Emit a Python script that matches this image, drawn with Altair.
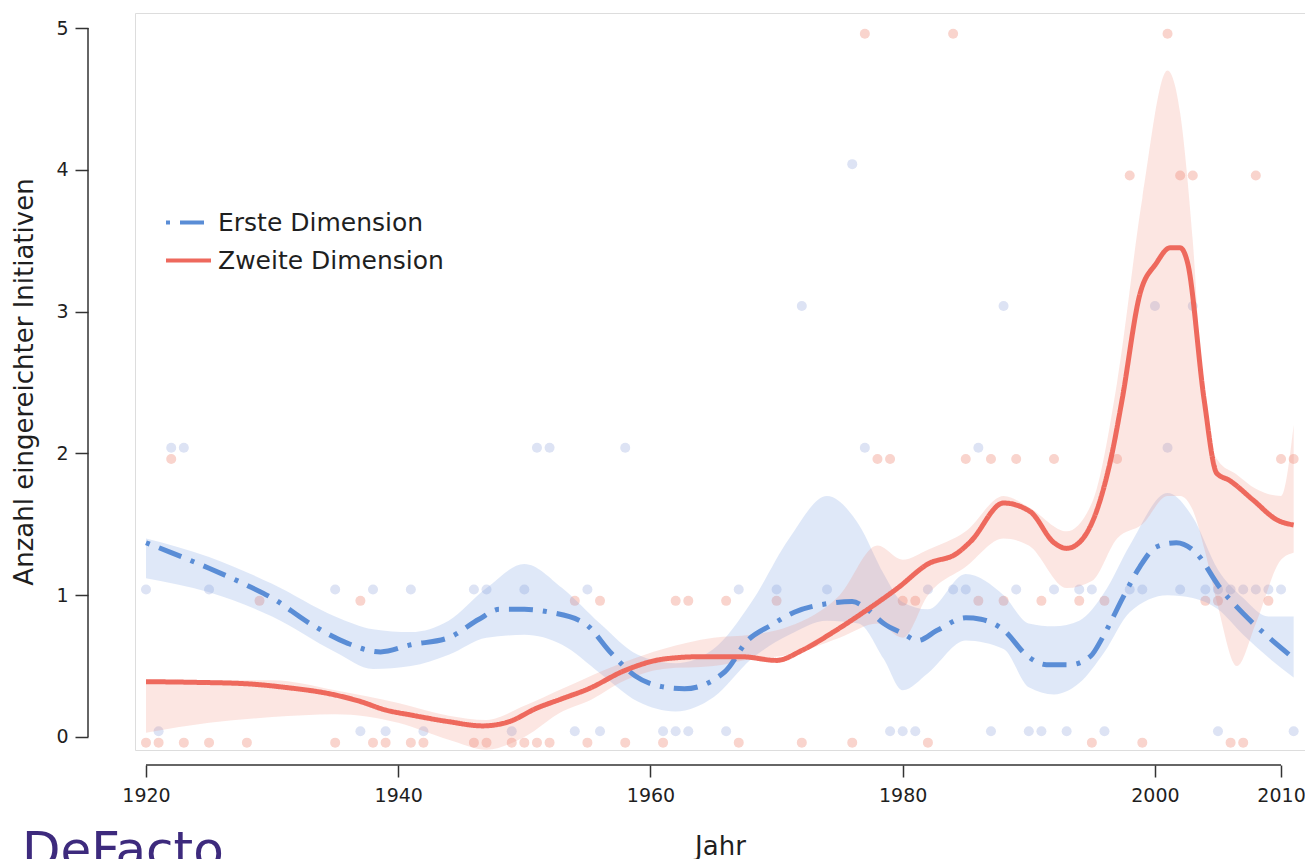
import altair as alt
import pandas as pd

# ---------------- data ----------------
DIM1 = "Erste Dimension"
DIM2 = "Zweite Dimension"

# smoothed curve, first dimension
blue_years = [1920, 1922, 1925, 1928, 1930, 1933, 1936, 1938.6, 1941, 1944, 1946.4, 1948,
              1950, 1952, 1954.8, 1956.9, 1958.8, 1960.9, 1962.7, 1965.9, 1967.7, 1969.6,
              1971.4, 1974, 1976, 1977.2, 1978.5, 1980, 1981.2, 1982.7, 1985, 1986.2, 1988,
              1989.9, 1991.4, 1993.3, 1994.9, 1995.9, 1997.5, 1998.8, 2000.1, 2001.7, 2003.3,
              2005.1, 2007, 2008.8, 2011]
blue_vals = [1.37, 1.30, 1.19, 1.07, 0.98, 0.80, 0.66, 0.60, 0.65, 0.70, 0.83, 0.90,
             0.90, 0.88, 0.80, 0.59, 0.43, 0.355, 0.34, 0.46, 0.68, 0.79,
             0.88, 0.94, 0.955, 0.90, 0.80, 0.73, 0.68, 0.75, 0.84, 0.83, 0.755,
             0.57, 0.51, 0.51, 0.57, 0.71, 0.99, 1.20, 1.34, 1.37, 1.295,
             1.06, 0.87, 0.72, 0.555]

# smoothed curve, second dimension
red_years = [1920, 1924, 1928, 1931, 1934.8, 1937, 1939, 1941, 1944, 1946.7, 1948.8, 1950.9,
             1953, 1955.1, 1958, 1961.1, 1964, 1967.2, 1970, 1972, 1974.5, 1976.9, 1979.6,
             1982, 1984.3, 1985.4, 1988, 1990.1, 1992, 1993, 1994.1, 1995.4, 1996.6, 1997.4,
             1998.8, 2000.1, 2001.2, 2002, 2002.6, 2003.9, 2004.9, 2005.9, 2007.8, 2009.7, 2011]
red_vals = [0.39, 0.385, 0.375, 0.35, 0.30, 0.25, 0.19, 0.155, 0.108, 0.078, 0.108, 0.20,
            0.27, 0.34, 0.47, 0.55, 0.566, 0.566, 0.54, 0.61, 0.74, 0.88, 1.05,
            1.22, 1.295, 1.38, 1.65, 1.59, 1.37, 1.33, 1.38, 1.60, 2.00, 2.38,
            3.12, 3.34, 3.45, 3.45, 3.34, 2.38, 1.86, 1.81, 1.67, 1.53, 1.495]

# spread of the resampled curves (envelope), first dimension
blue_band_years = [1920, 1925, 1930, 1935, 1938, 1941, 1944, 1947, 1950, 1953, 1956, 1959,
                   1962, 1965, 1968, 1971, 1974, 1976.5, 1978.5, 1980, 1982, 1985, 1988, 1990,
                   1992, 1994, 1996, 1998, 2001, 2003, 2005, 2007, 2009, 2011]
blue_band_lo = [1.12, 1.02, 0.85, 0.60, 0.48, 0.50, 0.58, 0.70, 0.72, 0.65, 0.45, 0.25,
                0.18, 0.28, 0.55, 0.72, 0.82, 0.80, 0.55, 0.33, 0.45, 0.68, 0.62, 0.35,
                0.30, 0.38, 0.60, 0.88, 1.00, 0.98, 0.90, 0.72, 0.56, 0.42]
blue_band_hi = [1.40, 1.27, 1.08, 0.85, 0.76, 0.74, 0.82, 1.05, 1.22, 1.05, 0.80, 0.58,
                0.52, 0.62, 0.95, 1.40, 1.70, 1.50, 1.15, 0.95, 0.90, 1.15, 1.00, 0.80,
                0.78, 0.82, 1.02, 1.35, 1.72, 1.55, 1.18, 0.98, 0.85, 0.85]

# spread of the resampled curves (envelope), second dimension
red_band_years = [1920, 1925, 1930, 1935, 1940, 1944, 1947, 1950, 1953, 1955, 1958, 1961,
                  1965, 1968, 1971, 1975, 1978, 1980, 1982, 1985, 1988, 1990, 1993, 1995,
                  1997, 1999, 2001, 2002, 2003, 2004, 2005, 2006.5, 2008, 2010, 2011]
red_band_lo = [0.03, 0.10, 0.14, 0.16, 0.10, -0.02, -0.09, 0.00, 0.18, 0.25, 0.40, 0.48,
               0.50, 0.55, 0.58, 0.70, 0.80, 0.70, 1.00, 1.20, 1.40, 1.35, 1.05, 1.10,
               1.40, 1.50, 1.70, 1.70, 1.60, 1.30, 0.92, 0.50, 0.80, 1.25, 1.30]
red_band_hi = [0.40, 0.40, 0.40, 0.33, 0.24, 0.15, 0.12, 0.22, 0.34, 0.42, 0.53, 0.62,
               0.70, 0.72, 0.78, 1.00, 1.35, 1.25, 1.32, 1.45, 1.70, 1.62, 1.45, 1.65,
               2.50, 3.80, 4.70, 4.40, 3.50, 2.20, 1.95, 1.85, 1.75, 1.70, 2.20]

# observed yearly counts, first dimension
blue_count0 = [1921, 1937, 1939, 1942, 1949, 1954, 1956, 1961, 1962, 1963, 1966, 1979, 1980,
               1981, 1987, 1990, 1991, 1993, 1996, 2005, 2011]
blue_count1 = [1920, 1925, 1935, 1938, 1941, 1946, 1947, 1950, 1955, 1967, 1970, 1974, 1982,
               1984, 1985, 1989, 1992, 1994, 1995, 1998, 1999, 2002, 2004, 2005, 2006, 2007,
               2008, 2009, 2010]
blue_count2 = [1922, 1923, 1951, 1952, 1958, 1977, 1986, 2001]
blue_count3 = [1972, 1988, 2000, 2003]
blue_count4 = [1976]

# observed yearly counts, second dimension
red_count0 = [1920, 1921, 1923, 1925, 1928, 1935, 1938, 1939, 1941, 1942, 1946, 1947, 1949,
              1950, 1951, 1952, 1955, 1958, 1961, 1967, 1972, 1976, 1982, 1995, 1999, 2006, 2007]
red_count1 = [1929, 1937, 1954, 1956, 1962, 1963, 1966, 1970, 1980, 1981, 1986, 1988, 1991,
              1994, 1996, 2004, 2005, 2009]
red_count2 = [1922, 1978, 1979, 1985, 1987, 1989, 1992, 1997, 2010, 2011]
red_count4 = [1998, 2002, 2003, 2008]
red_count5 = [1977, 1984, 2001]

x_ticks = [1920, 1940, 1960, 1980, 2000, 2010]
y_ticks = [0, 1, 2, 3, 4, 5]

# ---------------- tables ----------------
lines = pd.DataFrame(
    {"Jahr": blue_years + red_years,
     "Wert": blue_vals + red_vals,
     "Dimension": [DIM1] * len(blue_years) + [DIM2] * len(red_years)})

band_blue = pd.DataFrame({"Jahr": blue_band_years, "Wert": blue_band_lo, "Wert2": blue_band_hi})
band_red = pd.DataFrame({"Jahr": red_band_years, "Wert": red_band_lo, "Wert2": red_band_hi})


def count_table(groups):
    rows = []
    for cnt, yrs in groups:
        for y in yrs:
            rows.append({"Jahr": y, "Anzahl": cnt})
    return pd.DataFrame(rows)


pts_blue = count_table([(0, blue_count0), (1, blue_count1), (2, blue_count2),
                        (3, blue_count3), (4, blue_count4)])
pts_red = count_table([(0, red_count0), (1, red_count1), (2, red_count2),
                       (4, red_count4), (5, red_count5)])

xaxis_line = pd.DataFrame({"Jahr": [x_ticks[0]], "Jahr2": [x_ticks[-1]]})
yaxis_line = pd.DataFrame({"Wert": [y_ticks[0]], "Wert2": [y_ticks[-1]]})
logo = pd.DataFrame({"t": ["DeFacto"]})

# ---------------- styling ----------------
BLUE = "#5A8DD6"
RED = "#EE695D"
FONT = "DejaVu Sans"
TXT = "#1f1f1f"

xs = alt.Scale(domain=[1919.128, 2011.90], nice=False, zero=False)
ys = alt.Scale(domain=[-0.092, 5.106], nice=False, zero=False)

xaxis = alt.Axis(values=x_ticks, format="d", offset=15, tickSize=12, tickWidth=1.5,
                 tickColor="#333333", domain=False, grid=False, labelFontSize=19,
                 labelPadding=9, labelColor=TXT, labelFont=FONT, labelFlush=False,
                 labelOverlap=False, title="Jahr", titleFontSize=26, titleFont=FONT,
                 titleFontWeight="normal", titleColor=TXT, titlePadding=28)
yaxis = alt.Axis(values=y_ticks, offset=47, tickSize=13, tickWidth=1.5, tickColor="#333333",
                 domain=False, grid=False, labelFontSize=19, labelPadding=7, labelColor=TXT,
                 labelFont=FONT, labelFlush=False, labelOverlap=False,
                 title="Anzahl eingereichter Initiativen", titleFontSize=26, titleFont=FONT,
                 titleFontWeight="normal", titleColor=TXT, titlePadding=18)


def X(field="Jahr"):
    return alt.X(f"{field}:Q", scale=xs, axis=xaxis)


def Y(field="Wert"):
    return alt.Y(f"{field}:Q", scale=ys, axis=yaxis)


pts_blue_layer = alt.Chart(pts_blue).transform_calculate(Wert="datum.Anzahl + 0.04").mark_circle(
    size=100, opacity=1, color="#dde3f4").encode(x=X(), y=Y())
pts_red_layer = alt.Chart(pts_red).transform_calculate(Wert="datum.Anzahl - 0.04").mark_circle(
    size=100, opacity=1, color="#f9d4cd").encode(x=X(), y=Y())

band_blue_layer = alt.Chart(band_blue).mark_area(interpolate="monotone", opacity=0.22,
                                                 color="#6f97df").encode(
    x=X(), y=Y(), y2=alt.Y2("Wert2"))
band_red_layer = alt.Chart(band_red).mark_area(interpolate="monotone", opacity=0.2,
                                               color="#f0806f").encode(
    x=X(), y=Y(), y2=alt.Y2("Wert2"))

line_layer = alt.Chart(lines).mark_line(interpolate="monotone", strokeWidth=5,
                                        strokeCap="butt").encode(
    x=X(), y=Y(),
    color=alt.Color("Dimension:N", title=None,
                    scale=alt.Scale(domain=[DIM1, DIM2], range=[BLUE, RED]),
                    legend=alt.Legend(orient="none", legendX=29, legendY=185,
                                      symbolType="stroke", symbolSize=2025,
                                      symbolStrokeWidth=4, labelFontSize=25,
                                      labelFont=FONT, labelColor=TXT, labelOffset=5,
                                      rowPadding=-12, padding=0, labelLimit=400)),
    strokeDash=alt.StrokeDash("Dimension:N", title=None,
                              scale=alt.Scale(domain=[DIM1, DIM2],
                                              range=[[4, 10, 24, 10], [1, 0]])),
    order="Jahr:Q")

x_domain_layer = alt.Chart(xaxis_line).mark_rule(color="#333333", strokeWidth=1.5).encode(
    x=X(), x2=alt.X2("Jahr2"), y=alt.value(752))
y_domain_layer = alt.Chart(yaxis_line).mark_rule(color="#333333", strokeWidth=1.5).encode(
    y=Y(), y2=alt.Y2("Wert2"), x=alt.value(-47))

logo_layer = alt.Chart(logo).mark_text(align="left", baseline="alphabetic", fontSize=50,
                                       font=FONT, color="#3d2a7d").encode(
    text="t:N", x=alt.value(-113), y=alt.value(854))

chart = alt.layer(pts_blue_layer, pts_red_layer, band_blue_layer, band_red_layer, line_layer,
                  x_domain_layer, y_domain_layer, logo_layer).properties(
    width=1170, height=737,
    autosize=alt.AutoSizeParams(type="none"),
    padding={"left": 127, "top": 5, "right": 0, "bottom": 125},
).configure_view(fill="#f8f8f8", stroke="transparent").configure(background="white")

chart.save("out.html", embed_options={"renderer": "svg", "actions": False})
